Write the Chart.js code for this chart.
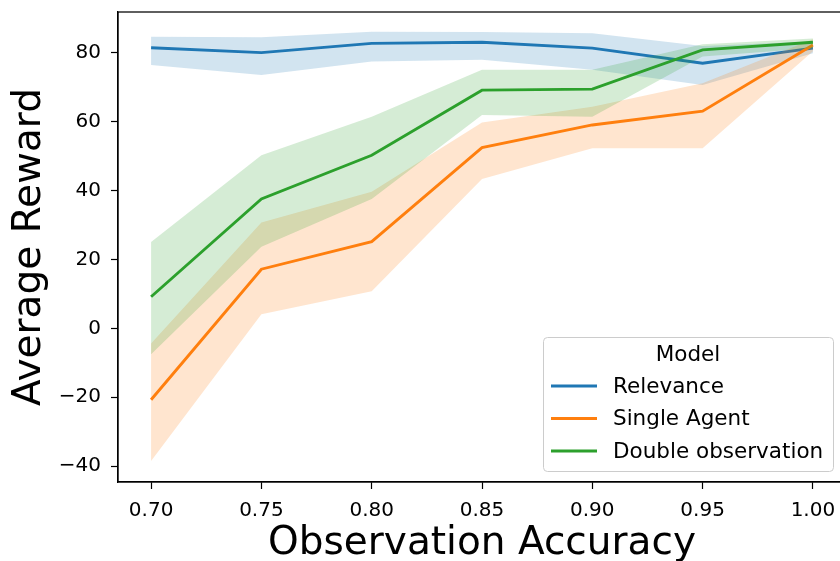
<!DOCTYPE html>
<html>
<head>
<meta charset="utf-8">
<script src="https://cdn.jsdelivr.net/npm/chart.js@4"></script>
<style>
  html, body { margin: 0; padding: 0; background: #fff; overflow: hidden; }
  #wrap { width: 848px; height: 561px; }
</style>
</head>
<body>
<div id="wrap"><canvas id="rewardChart"></canvas></div>
<script>
// values
const accuracy = [0.70, 0.75, 0.80, 0.85, 0.90, 0.95, 1.00];
const xTicks = [0.70, 0.75, 0.80, 0.85, 0.90, 0.95, 1.00];
const yTicks = [-40, -20, 0, 20, 40, 60, 80];
const modelNames = ['Relevance', 'Single Agent', 'Double observation'];
const modelColors = ['#1f77b4', '#ff7f0e', '#2ca02c'];
const bandColors = ['rgba(31,119,180,0.2)', 'rgba(255,127,14,0.2)', 'rgba(44,160,44,0.2)'];

const relevanceMean = [81.5, 80.1, 82.8, 83.1, 81.4, 77.0, 81.4];
const relevanceLow  = [76.5, 73.6, 77.5, 78.0, 75.1, 70.7, 79.9];
const relevanceHigh = [84.7, 84.6, 86.2, 86.1, 85.7, 82.0, 83.3];

const singleMean = [-20.7, 17.2, 25.2, 52.5, 59.1, 63.1, 82.3];
const singleLow  = [-38.5, 4.1, 10.8, 43.4, 52.3, 52.3, 80.5];
const singleHigh = [-4.4, 30.8, 39.7, 59.8, 64.4, 71.2, 84.0];

const doubleMean = [9.2, 37.6, 50.3, 69.2, 69.5, 80.9, 83.1];
const doubleLow  = [-7.5, 23.7, 37.6, 62.0, 61.5, 79.0, 81.4];
const doubleHigh = [25.1, 50.3, 61.5, 75.1, 75.1, 82.5, 84.2];

const FONT = '"DejaVu Sans", sans-serif';
const LINE_W = 2.9;

function points(values) {
    return values.map((v, i) => ({ x: accuracy[i], y: v }));
}

function seriesDatasets(idx, low, high, mean, order) {
    return [
        { data: points(low), borderWidth: 0, pointRadius: 0, fill: false, order: order + 1 },
        { data: points(high), borderWidth: 0, pointRadius: 0, fill: '-1',
          backgroundColor: bandColors[idx], order: order + 1 },
        { label: modelNames[idx], data: points(mean), borderColor: modelColors[idx],
          borderWidth: LINE_W, pointRadius: 0, fill: false, order: order }
    ];
}

const datasets = [
    ...seriesDatasets(0, relevanceLow, relevanceHigh, relevanceMean, 8),
    ...seriesDatasets(1, singleLow, singleHigh, singleMean, 5),
    ...seriesDatasets(2, doubleLow, doubleHigh, doubleMean, 2)
];

const frameAndLegend = {
    id: 'frameAndLegend',
    afterDraw(chart) {
        const { ctx, chartArea } = chart;
        ctx.save();
        ctx.strokeStyle = '#000';
        ctx.lineWidth = 1.25;
        ctx.strokeRect(chartArea.left, chartArea.top, chartArea.right - chartArea.left, chartArea.bottom - chartArea.top);

        // legend box, lower right
        ctx.beginPath();
        ctx.roundRect(543.5, 337.5, 290, 134, 4);
        ctx.fillStyle = 'rgba(255,255,255,0.8)';
        ctx.fill();
        ctx.strokeStyle = '#cccccc';
        ctx.lineWidth = 1;
        ctx.stroke();

        ctx.fillStyle = '#000';
        ctx.font = '21.5px ' + FONT;
        ctx.textBaseline = 'middle';
        ctx.textAlign = 'center';
        ctx.fillText('Model', 688, 355);
        ctx.textAlign = 'left';
        const rows = [386, 418.5, 451];
        modelNames.forEach((name, i) => {
            ctx.strokeStyle = modelColors[i];
            ctx.lineWidth = LINE_W;
            ctx.beginPath();
            ctx.moveTo(551, rows[i]);
            ctx.lineTo(597, rows[i]);
            ctx.stroke();
            ctx.fillText(name, 613, rows[i] + 1);
        });
        ctx.restore();
    }
};

new Chart(document.getElementById('rewardChart'), {
    type: 'line',
    data: { datasets: datasets },
    options: {
        responsive: true,
        maintainAspectRatio: false,
        animation: false,
        layout: { padding: { left: 0, top: 12, right: 2, bottom: 0 } },
        plugins: {
            legend: { display: false },
            tooltip: { enabled: false },
            filler: { propagate: false }
        },
        scales: {
            x: {
                type: 'linear',
                min: 0.685,
                max: 1.015,
                afterBuildTicks: scale => { scale.ticks = xTicks.map(v => ({ value: v })); },
                afterFit: scale => { scale.height = 79; scale.paddingLeft = 0; scale.paddingRight = 0; },
                ticks: {
                    color: '#000',
                    font: { family: FONT, size: 20 },
                    padding: 10,
                    maxRotation: 0,
                    callback: v => Number(v).toFixed(2)
                },
                grid: { drawOnChartArea: false, drawTicks: true, tickLength: 7, tickColor: '#000', tickWidth: 1.2 },
                border: { display: true, color: '#000', width: 1.25 },
                title: {
                    display: true,
                    text: 'Observation Accuracy',
                    color: '#000',
                    font: { family: FONT, size: 39, lineHeight: 1 },
                    padding: { top: 0, bottom: -2 }
                }
            },
            y: {
                min: -44.6,
                max: 91.9,
                afterBuildTicks: scale => { scale.ticks = yTicks.map(v => ({ value: v })); },
                afterFit: scale => { scale.width = 118; scale.paddingTop = 0; scale.paddingBottom = 0; },
                ticks: {
                    color: '#000',
                    font: { family: FONT, size: 20 },
                    padding: 10,
                    callback: v => v < 0 ? '\u2212' + Math.abs(v) : String(v)
                },
                grid: { drawOnChartArea: false, drawTicks: true, tickLength: 7, tickColor: '#000', tickWidth: 1.2 },
                border: { display: true, color: '#000', width: 1.25 },
                title: {
                    display: true,
                    text: 'Average Reward',
                    color: '#000',
                    font: { family: FONT, size: 39, lineHeight: 1 },
                    padding: { top: 10, bottom: 0 }
                }
            }
        }
    },
    plugins: [frameAndLegend]
});
</script>
</body>
</html>
